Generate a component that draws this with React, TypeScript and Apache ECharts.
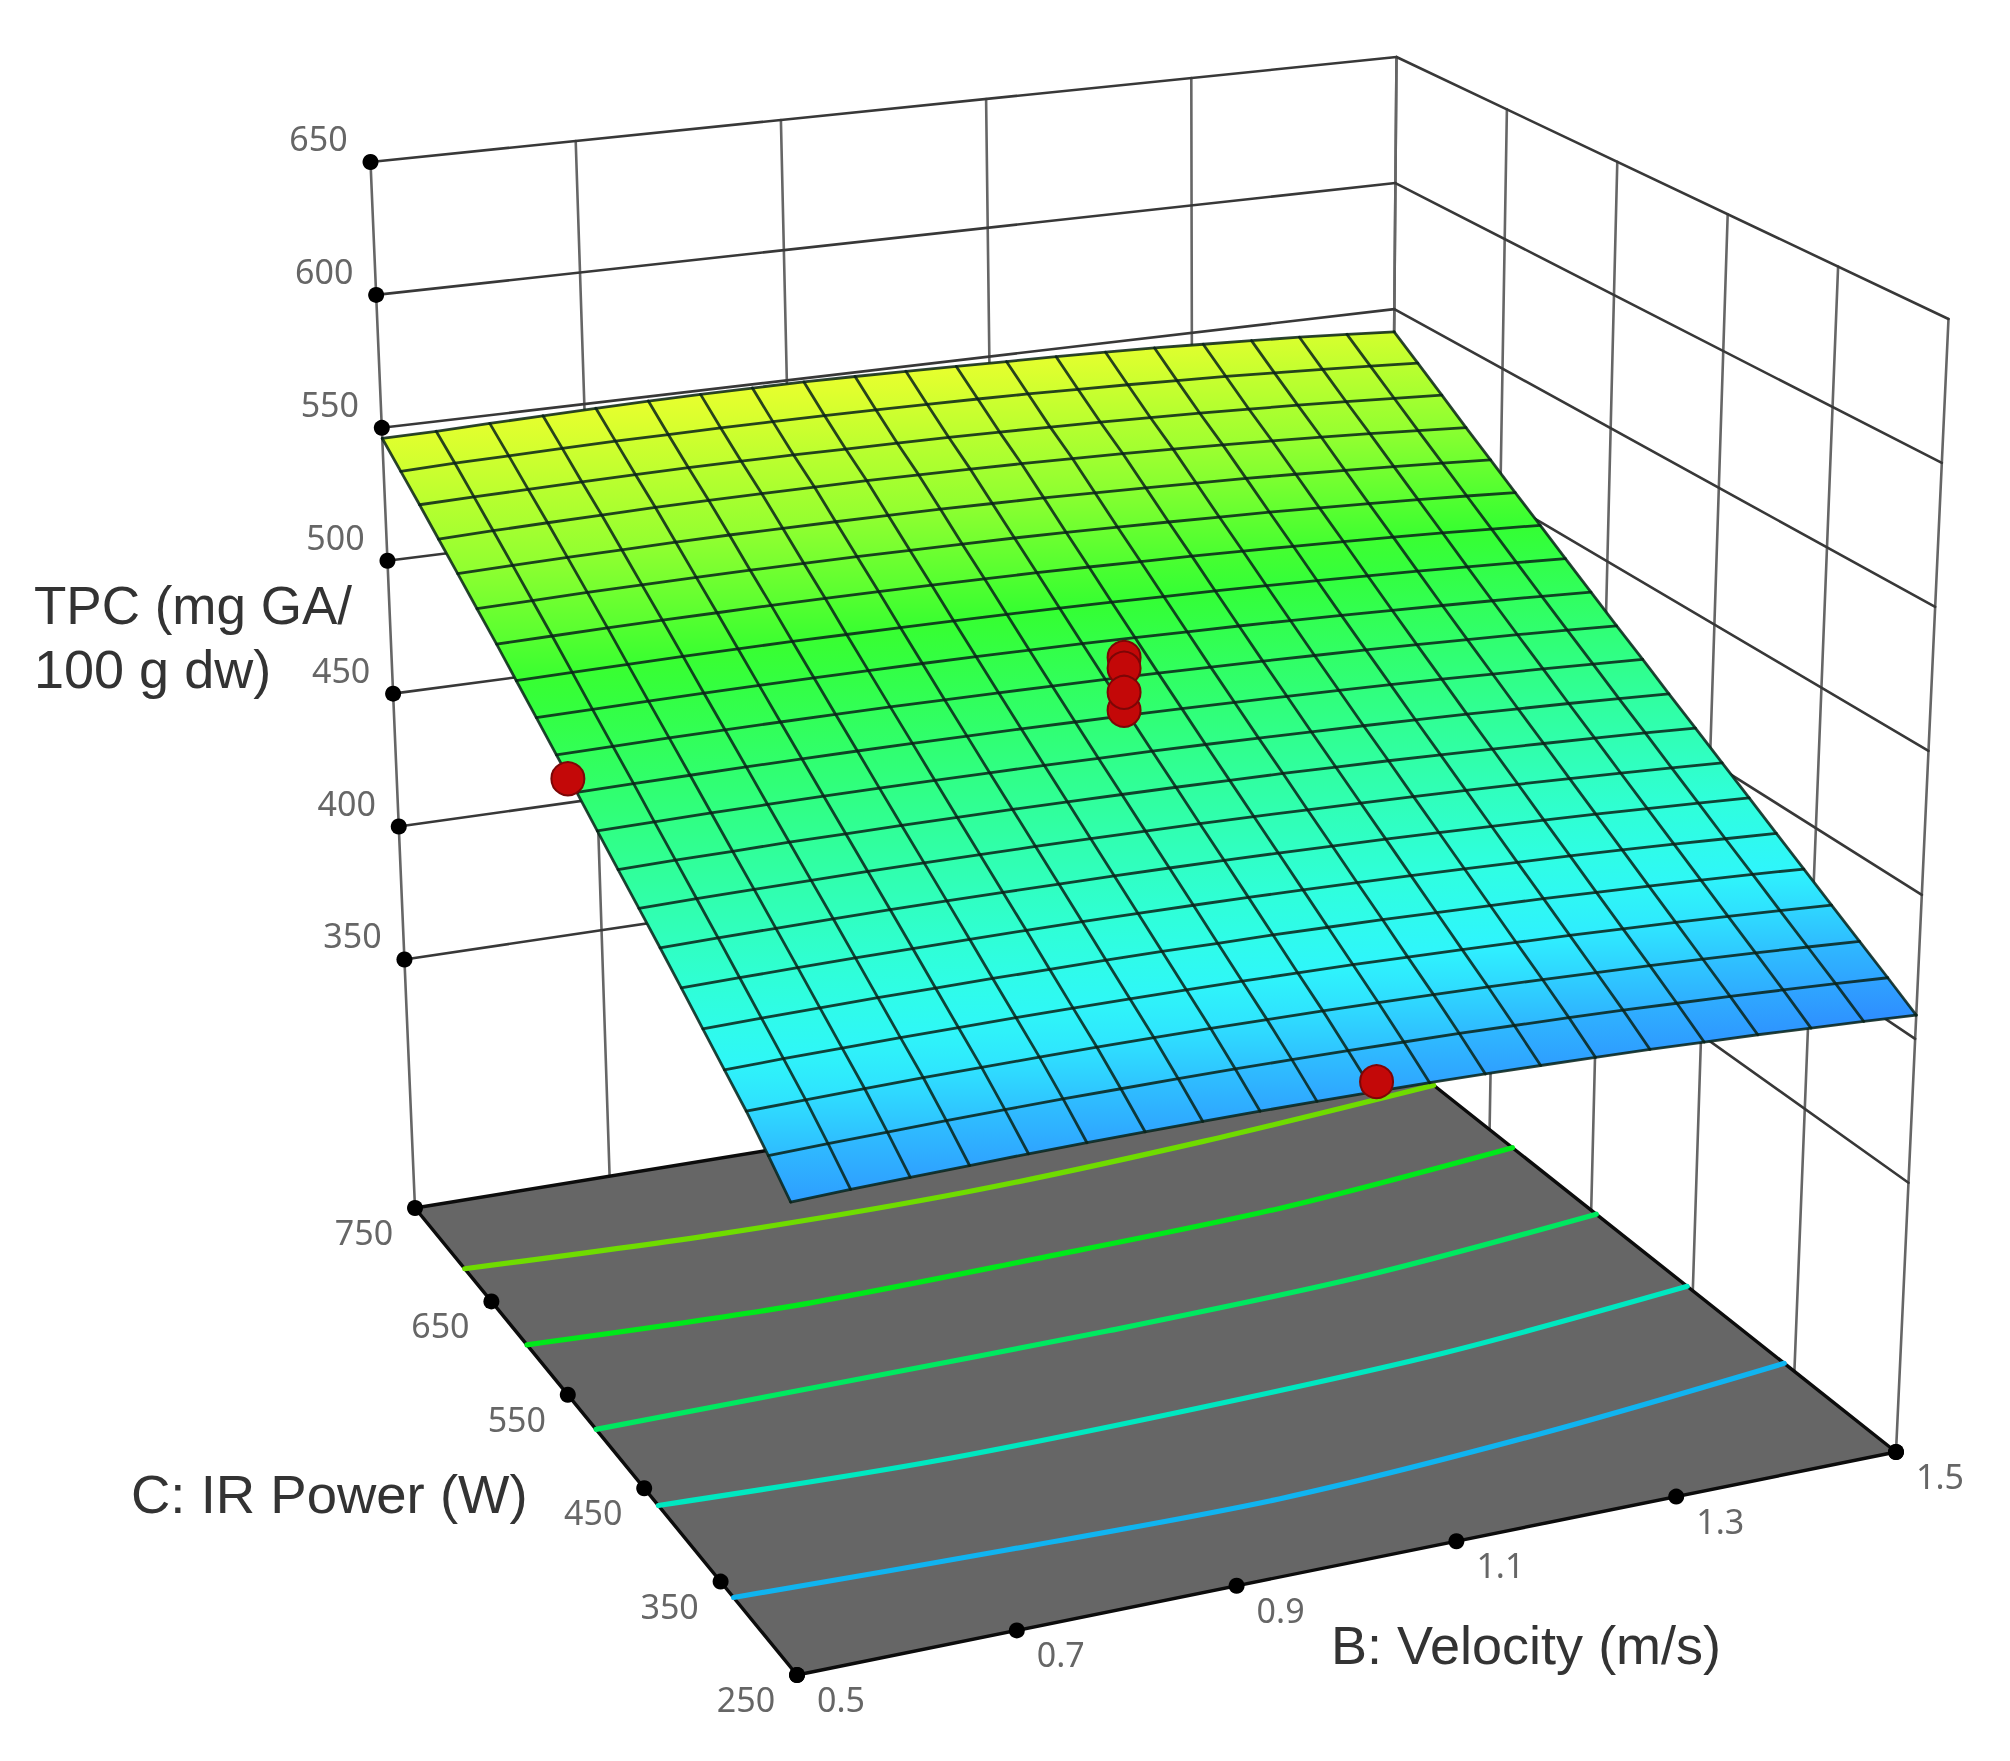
import React, { useEffect, useRef } from "react";
import * as echarts from "echarts";

// ---- axis ticks ----
const velocityTicks = [0.5, 0.7, 0.9, 1.1, 1.3, 1.5];
const powerTicks = [250, 350, 450, 550, 650, 750];
const tpcTicks = [350, 400, 450, 500, 550, 600, 650];
const floorTpc = 256.5;
const topTpc = 650;

// ---- surface grid ----
const gridVelocity = [0.5, 0.5533, 0.6063, 0.6589, 0.7112, 0.7631, 0.8147, 0.8659, 0.9168, 0.9673, 1.0175, 1.0673, 1.1168, 1.1659, 1.2147, 1.2631, 1.3112, 1.3589, 1.4063, 1.4533, 1.5];
const gridPower = [750, 727.9, 705.4, 682.7, 659.6, 636.3, 612.6, 588.7, 564.4, 539.9, 515, 489.9, 464.4, 438.7, 412.6, 386.3, 359.6, 332.7, 305.4, 277.9, 250];
const surfaceTpc = [
  [546, 546.3, 546.9, 547.4, 547.9, 548.3, 548.5, 548.6, 548.6, 548.4, 548.1, 547.7, 547.3, 546.9, 546.4, 545.8, 545, 544.2, 543.3, 542.2, 541],
  [539.7, 540.3, 540.6, 541.0, 541.3, 541.4, 541.5, 541.5, 541.4, 541.2, 541.0, 540.7, 540.3, 539.7, 539.2, 538.5, 537.8, 536.9, 536.0, 535.0, 533.9],
  [533.4, 533.8, 534.1, 534.4, 534.7, 534.8, 534.8, 534.7, 534.5, 534.3, 534.1, 533.7, 533.2, 532.7, 532.1, 531.4, 530.6, 529.8, 528.8, 527.8, 526.7],
  [526.9, 527.4, 527.8, 528.1, 528.4, 528.5, 528.5, 528.5, 528.4, 528.1, 527.8, 527.4, 526.9, 526.3, 525.6, 524.8, 523.9, 523.0, 521.9, 520.7, 519.5],
  [520.5, 520.9, 521.2, 521.4, 521.6, 521.7, 521.6, 521.5, 521.3, 521.1, 520.7, 520.3, 519.7, 519.1, 518.4, 517.7, 516.8, 515.8, 514.8, 513.7, 512.5],
  [514.0, 514.3, 514.6, 514.7, 514.8, 514.8, 514.7, 514.6, 514.3, 514.0, 513.7, 513.2, 512.6, 512.0, 511.3, 510.6, 509.7, 508.8, 507.8, 506.7, 505.5],
  [507.6, 507.8, 508.0, 508.1, 508.1, 508.1, 508.0, 507.8, 507.5, 507.2, 506.8, 506.3, 505.7, 505.1, 504.4, 503.6, 502.8, 501.9, 500.9, 499.8, 498.7],
  [500.9, 501.1, 501.2, 501.3, 501.3, 501.2, 501.0, 500.8, 500.5, 500.2, 499.8, 499.3, 498.7, 498.1, 497.4, 496.6, 495.8, 494.9, 493.9, 492.9, 491.8],
  [494.3, 494.4, 494.5, 494.5, 494.5, 494.4, 494.2, 494.0, 493.7, 493.3, 492.9, 492.4, 491.8, 491.2, 490.5, 489.7, 488.9, 488.0, 487.1, 486.1, 485.0],
  [487.7, 487.8, 487.9, 487.9, 487.8, 487.7, 487.5, 487.2, 486.9, 486.5, 486.1, 485.6, 485.0, 484.4, 483.7, 483.0, 482.2, 481.3, 480.4, 479.4, 478.3],
  [481.2, 481.3, 481.3, 481.3, 481.2, 481.1, 480.9, 480.6, 480.3, 479.9, 479.5, 479.0, 478.4, 477.8, 477.1, 476.4, 475.6, 474.7, 473.8, 472.8, 471.8],
  [474.5, 474.6, 474.7, 474.7, 474.6, 474.5, 474.3, 474.0, 473.7, 473.3, 472.9, 472.4, 471.8, 471.2, 470.5, 469.8, 469.0, 468.1, 467.2, 466.2, 465.1],
  [467.9, 468.1, 468.1, 468.2, 468.1, 468.0, 467.8, 467.6, 467.3, 466.9, 466.5, 466.0, 465.5, 464.8, 464.2, 463.4, 462.6, 461.7, 460.8, 459.8, 458.7],
  [461.4, 461.6, 461.7, 461.7, 461.7, 461.6, 461.4, 461.2, 460.9, 460.5, 460.1, 459.6, 459.0, 458.4, 457.7, 457.0, 456.2, 455.3, 454.3, 453.3, 452.2],
  [454.9, 455.1, 455.2, 455.3, 455.3, 455.2, 455.0, 454.8, 454.5, 454.2, 453.8, 453.3, 452.7, 452.1, 451.4, 450.6, 449.8, 448.9, 447.9, 446.9, 445.8],
  [448.3, 448.5, 448.7, 448.8, 448.8, 448.8, 448.7, 448.5, 448.2, 447.9, 447.5, 447.0, 446.4, 445.8, 445.1, 444.3, 443.5, 442.6, 441.6, 440.5, 439.4],
  [441.6, 441.9, 442.1, 442.3, 442.3, 442.3, 442.2, 442.1, 441.9, 441.5, 441.2, 440.7, 440.2, 439.5, 438.8, 438.1, 437.2, 436.3, 435.3, 434.3, 433.1],
  [435.0, 435.4, 435.6, 435.8, 435.9, 436.0, 435.9, 435.8, 435.6, 435.3, 434.9, 434.5, 433.9, 433.3, 432.6, 431.9, 431.0, 430.1, 429.1, 428.0, 426.8],
  [428.5, 428.9, 429.2, 429.5, 429.6, 429.7, 429.7, 429.6, 429.4, 429.1, 428.8, 428.3, 427.8, 427.2, 426.5, 425.7, 424.9, 423.9, 422.9, 421.8, 420.6],
  [421.1, 421.6, 422.0, 422.4, 422.6, 422.8, 422.8, 422.8, 422.7, 422.5, 422.2, 421.8, 421.4, 420.8, 420.2, 419.5, 418.6, 417.7, 416.7, 415.7, 414.5],
  [413.3, 413.9, 414.4, 414.8, 415.2, 415.4, 415.6, 415.6, 415.6, 415.5, 415.3, 415.0, 414.6, 414.1, 413.5, 412.9, 412.1, 411.3, 410.3, 409.3, 408.2],
];

// ---- floor contours: power at each contourVelocity ----
const contourVelocity = [0.5, 0.75, 1.0, 1.25, 1.5];
const contour1 = [685, 677, 677, 687.5, 705];
const contour2 = [603.5, 596, 600, 607.5, 627.5];
const contour3 = [513, 515, 517.5, 525, 545];
const contour4 = [431.5, 424, 426.5, 435, 455.5];
const contour5 = [333, 327, 324.5, 337.5, 360];
const contourColors = ["#6fdc00", "#00e81a", "#00e860", "#00e8c0", "#10b4f0"];

// ---- design points: [velocity, power, tpc], in painting order ----
const designPoints = [
  [1.0, 500, 505.2],
  [1.0, 500, 501.3],
  [1.0, 500, 486.1],
  [1.0, 500, 492.6],
  [0.5, 526, 483],
  [1.02, 250, 418.6],
];

// ---- colour ramp for the surface ----
const rampTpc = [408, 420, 433, 445, 460, 480, 500, 521, 548];
const rampColor = ["#2e8aff", "#2fb4ff", "#2ff4ff", "#2fffe0", "#30ffb0", "#30ff70", "#34ff30", "#90ff30", "#e8ff2e"];

// ---- pixel frame of the perspective box ----
const frame = {
  backFloor: [415, 1208], backRightFloor: [1388, 1049], frontFloor: [797, 1675], rightFloor: [1896, 1452],
  backTop: [370.5, 162], backRightTop: [1396.5, 57], frontTop: [781, 488], rightTop: [1948.5, 319],
};

const mix = (a: number[], b: number[], t: number) => [a[0] + (b[0] - a[0]) * t, a[1] + (b[1] - a[1]) * t];

function project(velocity: number, power: number, tpc: number) {
  const u = velocity - 0.5;
  const v = (750 - power) / 500;
  const t = (tpc - floorTpc) / (topTpc - floorTpc);
  const floor = mix(mix(frame.backFloor, frame.backRightFloor, u), mix(frame.frontFloor, frame.rightFloor, u), v);
  const top = mix(mix(frame.backTop, frame.backRightTop, u), mix(frame.frontTop, frame.rightTop, u), v);
  return mix(floor, top, t);
}

function hex(c: string) {
  return [parseInt(c.slice(1, 3), 16), parseInt(c.slice(3, 5), 16), parseInt(c.slice(5, 7), 16)];
}
function colorOf(z: number) {
  if (z <= rampTpc[0]) return rampColor[0];
  for (let i = 1; i < rampTpc.length; i++) {
    if (z <= rampTpc[i]) {
      const t = (z - rampTpc[i - 1]) / (rampTpc[i] - rampTpc[i - 1]);
      const a = hex(rampColor[i - 1]);
      const b = hex(rampColor[i]);
      return `rgb(${a.map((x, k) => Math.round(x + (b[k] - x) * t)).join(",")})`;
    }
  }
  return rampColor[rampColor.length - 1];
}

const tickFont = { fontFamily: "'Noto Sans', sans-serif", fontSize: 34, fill: "#666666", align: "center", verticalAlign: "middle" };
const titleFont = { fontFamily: "'Liberation Sans', Arial, sans-serif", fill: "#333333", align: "left", verticalAlign: "middle" };

function layer(z: number, items: any[], draw: (item: any, api: any) => any) {
  return {
    type: "custom",
    coordinateSystem: "cartesian2d",
    z,
    silent: true,
    clip: false,
    progressive: 0,
    data: items.map((_, i) => [i, 0]),
    renderItem: (params: any, api: any) => draw(items[params.dataIndex], api),
  };
}

function line(api: any, pts: number[][], stroke: string, lineWidth: number, smooth = 0) {
  return {
    type: "polyline",
    shape: { points: pts.map((p) => api.coord(p)), smooth },
    style: { stroke, lineWidth, fill: null, lineCap: "round", lineJoin: "round" },
  };
}

function buildOption() {
  const wallSegs: any[] = [];
  const gray = "#383838";
  const light = "#666666";
  const vMin = velocityTicks[0], vMax = velocityTicks[5], pMin = powerTicks[0], pMax = powerTicks[5];
  velocityTicks.forEach((b) => wallSegs.push({ a: [b, pMax, floorTpc], b: [b, pMax, topTpc], c: light, w: 2.6 }));
  powerTicks.forEach((c) => wallSegs.push({ a: [vMax, c, floorTpc], b: [vMax, c, topTpc], c: light, w: 2.6 }));
  tpcTicks.forEach((z) => {
    wallSegs.push({ a: [vMin, pMax, z], b: [vMax, pMax, z], c: gray, w: 2.6 });
    wallSegs.push({ a: [vMax, pMax, z], b: [vMax, pMin, z], c: gray, w: 2.6 });
  });

  const floorCorners = [[vMin, pMax], [vMax, pMax], [vMax, pMin], [vMin, pMin]];

  const contours = [contour1, contour2, contour3, contour4, contour5].map((powers, i) => ({ powers, color: contourColors[i] }));

  const cells: number[][] = [];
  for (let r = 0; r < gridPower.length - 1; r++) {
    for (let c = 0; c < gridVelocity.length - 1; c++) cells.push([r, c]);
  }
  const rowIdx = gridPower.map((_, i) => i);
  const colIdx = gridVelocity.map((_, i) => i);
  const node = (r: number, c: number) => project(gridVelocity[c], gridPower[r], surfaceTpc[r][c]);

  const dots: number[][] = [
    ...tpcTicks.map((z) => [vMin, pMax, z]),
    ...velocityTicks.map((b) => [b, pMin, floorTpc]),
    ...powerTicks.map((c) => [vMin, c, floorTpc]),
    [vMax, pMin, floorTpc],
  ];

  const labels: any[] = [
    ...tpcTicks.map((z) => ({ text: String(z), p: [vMin, pMax, z], dx: -52, dy: -24 })),
    ...powerTicks.map((c) => ({ text: String(c), p: [vMin, c, floorTpc], dx: -51, dy: 24 })),
    ...velocityTicks.map((b) => ({ text: b.toFixed(1), p: [b, pMin, floorTpc], dx: 44, dy: 24 })),
  ];
  const titles = [
    { text: "TPC (mg GA/", x: 34, y: 605, size: 53 },
    { text: "100 g dw)", x: 34, y: 669, size: 54 },
    { text: "C: IR Power (W)", x: 131, y: 1494, size: 54.5 },
    { text: "B: Velocity (m/s)", x: 1331, y: 1645, size: 54 },
  ];

  return {
    animation: false,
    backgroundColor: "#ffffff",
    tooltip: { show: false },
    legend: { show: false },
    grid: { left: 0, right: 0, top: 0, bottom: 0 },
    xAxis: { type: "value", min: 0, max: 2010, show: false },
    yAxis: { type: "value", min: 0, max: 1761, inverse: true, show: false },
    series: [
      layer(1, wallSegs, (s, api) => line(api, [project(s.a[0], s.a[1], s.a[2]), project(s.b[0], s.b[1], s.b[2])], s.c, s.w)),
      layer(2, [floorCorners], (f, api) => ({
        type: "polygon",
        shape: { points: f.map((p: number[]) => api.coord(project(p[0], p[1], floorTpc))) },
        style: { fill: "#666666", stroke: "#0c0c0c", lineWidth: 3.4, lineJoin: "round" },
      })),
      layer(3, contours, (k, api) =>
        line(api, k.powers.map((c: number, i: number) => project(contourVelocity[i], c, floorTpc)), k.color, 5.2, 0.3)
      ),
      layer(4, cells, ([r, c], api) => {
        const top = (surfaceTpc[r][c] + surfaceTpc[r][c + 1]) / 2;
        const bottom = (surfaceTpc[r + 1][c] + surfaceTpc[r + 1][c + 1]) / 2;
        const pts = [node(r, c), node(r, c + 1), node(r + 1, c + 1), node(r + 1, c)];
        return {
          type: "polygon",
          shape: { points: pts.map((p) => api.coord(p)) },
          style: {
            fill: new echarts.graphic.LinearGradient(0, 0, 0, 1, [
              { offset: 0, color: colorOf(top) },
              { offset: 1, color: colorOf(bottom) },
            ]),
            stroke: colorOf((top + bottom) / 2),
            lineWidth: 0.6,
          },
        };
      }),
      layer(5, rowIdx, (r, api) => line(api, colIdx.map((c) => node(r, c)), "rgba(8,34,24,0.85)", 2.8)),
      layer(5, colIdx, (c, api) => line(api, rowIdx.map((r) => node(r, c)), "rgba(8,34,24,0.85)", 2.8)),
      layer(6, dots, (d, api) => {
        const [x, y] = api.coord(project(d[0], d[1], d[2]));
        return { type: "circle", shape: { cx: x, cy: y, r: 8 }, style: { fill: "#000000" } };
      }),
      layer(7, designPoints, (d, api) => {
        const [x, y] = api.coord(project(d[0], d[1], d[2]));
        return { type: "circle", shape: { cx: x, cy: y, r: 16.5 }, style: { fill: "#c30808", stroke: "#7c0606", lineWidth: 2 } };
      }),
      layer(8, labels, (l, api) => {
        const [x, y] = api.coord(project(l.p[0], l.p[1], l.p[2]));
        return { type: "text", x: x + l.dx, y: y + l.dy, style: { text: l.text, ...tickFont } };
      }),
      layer(8, titles, (t, api) => {
        const [x, y] = api.coord([t.x, t.y]);
        return { type: "text", x, y, style: { text: t.text, fontSize: t.size, ...titleFont } };
      }),
    ],
  };
}

export default function App() {
  const ref = useRef<HTMLDivElement>(null);
  useEffect(() => {
    const chart = echarts.init(ref.current as HTMLDivElement, undefined, { renderer: "svg" });
    chart.setOption(buildOption() as any);
    return () => chart.dispose();
  }, []);
  return (
    <div
      ref={ref}
      style={{ position: "absolute", left: 0, top: 0, width: 2010, height: 1761, filter: "blur(0.7px)" }}
    />
  );
}
